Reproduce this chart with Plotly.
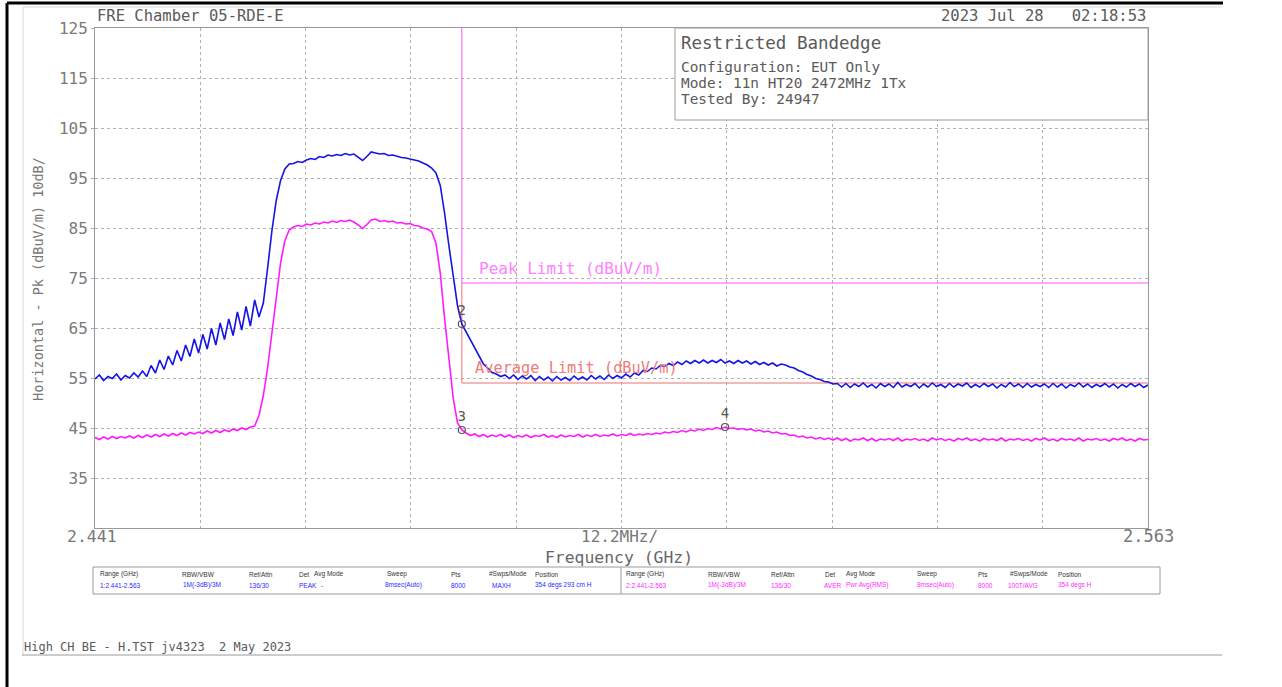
import numpy as np
import plotly.graph_objects as go

# ---------------- data ----------------
FREQ_START = 2.441   # GHz
FREQ_STOP = 2.563    # GHz
N_DIV = 10

# Trace 1: Peak detector, max hold (blue), dBuV/m
BLUE_PK = [
    54.8, 55.6, 54.5, 55.3, 54.9, 55.8, 54.6, 55.5, 55.0, 56.0, 55.2,
    56.4, 55.3, 57.5, 56.0, 58.6, 56.7, 59.4, 57.6, 60.5, 58.4, 61.6, 59.3, 62.8, 60.0,
    63.7, 60.8, 64.9, 61.6, 66.0, 62.7, 66.8, 63.5, 68.2, 64.6, 69.3, 65.4, 70.6, 67.2,
    70.0, 77.0, 84.5, 90.5, 94.5, 96.8, 97.8,
    97.9, 98.3, 98.1, 98.6, 98.9, 98.7, 99.3, 99.1, 99.6, 99.4, 99.7, 99.5, 99.9, 99.6,
    99.8, 99.2, 98.5, 99.3, 100.2, 100.0, 99.8, 99.9, 99.5, 99.6, 99.3, 99.1, 99.0, 98.8,
    98.6, 98.4, 98.0, 97.6, 97.0, 96.0,
    93.5, 88.0, 81.5, 75.0, 69.5, 65.8, 64.2, 62.6, 60.8, 59.2, 57.8, 57.0, 56.1, 55.8,
    55.3, 55.6,
    54.9, 55.6, 54.7, 55.4, 54.8, 55.5, 54.5, 55.3, 54.6, 55.2, 54.4, 55.3, 54.6, 55.1,
    54.5, 55.4, 54.7, 55.2, 54.6, 55.5, 54.8, 55.4, 54.7, 55.6, 54.9, 55.5, 55.0, 55.8,
    55.2, 56.0, 55.6, 56.5, 56.3,
    57.0, 56.8, 57.5, 57.3, 57.9, 57.5, 58.2, 57.7, 58.4, 57.9, 58.5, 58.0, 58.6, 58.0,
    58.5, 58.1, 58.7, 58.0, 58.4, 57.9, 58.5,
    58.0, 58.4, 57.8, 58.3, 57.7, 58.1, 57.6, 58.0, 57.4, 57.8,
    57.6, 57.2, 57.0, 56.5, 56.2, 55.7, 55.4, 54.9, 54.7, 54.3, 54.2, 53.8, 53.9,
    53.2, 53.9, 53.1, 53.8, 53.3, 54.0, 53.2, 53.7, 53.0, 53.9,
    53.3, 53.8, 53.1, 54.1, 53.2, 53.7, 53.3, 53.9, 53.0, 53.8,
    53.2, 54.0, 53.3, 53.7, 53.1, 53.9, 53.2, 53.8, 53.4, 54.0,
    53.1, 53.7, 53.2, 53.9, 53.3, 53.8, 53.0, 53.7, 53.2, 54.1,
    53.3, 53.8, 53.1, 53.9, 53.2, 53.7, 53.3, 53.8, 53.1, 53.9,
    53.2, 53.8, 53.0, 53.7, 53.3, 54.0, 53.2, 53.8, 53.1, 53.7,
    53.3, 53.9, 53.2, 53.8, 53.0, 53.7, 53.2, 53.9, 53.3, 53.8,
    53.1, 53.6,
]

# Trace 2: RMS average (magenta), dBuV/m
MAG_AV = [
    43.1, 42.7, 43.2, 42.8, 43.3, 42.9, 43.3, 43.0, 43.4, 43.0, 43.5, 43.1, 43.6, 43.2,
    43.7, 43.3, 43.8, 43.4, 43.9, 43.5, 44.0, 43.6, 44.1, 43.8, 44.2, 43.9, 44.4, 44.0,
    44.5, 44.1, 44.6, 44.3, 44.8, 44.5, 45.0, 44.7, 45.2,
    45.4, 47.5, 51.5, 57.0, 63.5, 71.0, 78.0, 82.5, 84.6,
    85.2, 85.5, 85.3, 85.8, 85.6, 86.0, 85.8, 86.2, 86.0, 86.4, 86.1, 86.5, 86.3, 86.6,
    86.2, 85.6, 84.9, 85.7, 86.6, 86.8, 86.3, 86.5, 86.2, 86.4, 86.0, 86.1, 85.8, 85.9,
    85.5, 85.4, 85.0, 84.8, 84.3,
    82.0, 76.0, 67.0, 59.0, 51.0, 46.0, 44.6,
    44.0, 43.5, 43.8, 43.3, 43.7, 43.2, 43.6, 43.3, 43.7, 43.2,
    43.6, 43.1, 43.5, 43.2, 43.6, 43.1, 43.5, 43.3, 43.7, 43.2,
    43.5, 43.1, 43.6, 43.2, 43.5, 43.3, 43.7, 43.2, 43.6, 43.3,
    43.7, 43.3, 43.6, 43.4, 43.8, 43.4, 43.7, 43.5, 43.9, 43.5,
    43.8, 43.6,
    43.9, 43.7, 44.0, 43.8, 44.2, 44.0, 44.3, 44.1, 44.5, 44.2,
    44.6, 44.4, 44.8, 44.5, 44.9, 44.7, 45.1, 44.8, 45.2, 44.9,
    45.0, 44.7, 44.9, 44.6, 44.8, 44.4, 44.6, 44.2, 44.4, 44.0,
    44.2, 43.8, 43.9, 43.5, 43.6, 43.2, 43.4, 43.0, 43.2, 42.8,
    43.1, 42.7, 43.0,
    42.6, 43.0, 42.5, 42.9, 42.4, 42.8, 42.6, 43.0, 42.5, 42.9,
    42.4, 42.8, 42.6, 42.9, 42.5, 43.0, 42.4, 42.8, 42.6, 42.9,
    42.5, 42.8, 42.4, 43.0, 42.6, 42.9, 42.5, 42.8, 42.4, 42.9,
    42.6, 43.0, 42.5, 42.8, 42.4, 42.9, 42.6, 42.8, 42.5, 43.0,
    42.4, 42.8, 42.6, 42.9, 42.5, 42.8, 42.4, 42.9, 42.6, 43.0,
    42.5, 42.8, 42.4, 42.9, 42.6, 42.8, 42.5, 43.0, 42.4, 42.8,
    42.6, 42.9, 42.5, 42.8, 42.4, 42.9, 42.6, 43.0, 42.5, 42.8,
    42.4, 42.9, 42.6, 42.7,
]

# Limit lines
BAND_EDGE = 2.4835
PEAK_LIMIT_FREQ = [BAND_EDGE, BAND_EDGE, FREQ_STOP]
PEAK_LIMIT_LEVEL = [125, 74, 74]
AVG_LIMIT_FREQ = [BAND_EDGE, BAND_EDGE, FREQ_STOP]
AVG_LIMIT_LEVEL = [74, 54, 54]

# Markers
MARKER_FREQ = [2.4835, 2.4835, 2.5140]
MARKER_LEVEL = [65.8, 44.6, 45.2]
MARKER_LABEL = ["2", "3", "4"]

Y_TICKS = [35, 45, 55, 65, 75, 85, 95, 105, 115, 125]

TABLE_HEADERS = ["Range (GHz)", "RBW/VBW", "Ref/Attn", "Det", "Avg Mode", "Sweep", "Pts", "#Swps/Mode", "Position"]
TABLE_T1 = ["1:2.441-2.563", "1M(-3dB)/3M", "136/30", "PEAK", "-", "8msec(Auto)", "8000", "MAXH", "354 degs 293 cm H"]
TABLE_T2 = ["2:2.441-2.563", "1M(-3dB)/3M", "136/30", "AVER", "Pwr Avg(RMS)", "8msec(Auto)", "8000", "100T/AVG", "354 degs H"]

# ---------------- layout helpers (pixel -> paper) ----------------
W, H = 1282, 687
L, R, T, B = 95, 1148, 28, 528


def px(x):
    return (x - L) / (R - L)


def py(y):
    return (B - y) / (B - T)


MONO = "DejaVu Sans Mono"
SMALL = "Liberation Sans"
TXT = "#5a5a5a"

freq = np.linspace(FREQ_START, FREQ_STOP, len(BLUE_PK))
freq2 = np.linspace(FREQ_START, FREQ_STOP, len(MAG_AV))

fig = go.Figure()
fig.add_trace(go.Scatter(x=AVG_LIMIT_FREQ, y=AVG_LIMIT_LEVEL, mode="lines",
                         line=dict(color="#f07070", width=1), hoverinfo="skip"))
fig.add_trace(go.Scatter(x=PEAK_LIMIT_FREQ, y=PEAK_LIMIT_LEVEL, mode="lines",
                         line=dict(color="#ff55ff", width=1), hoverinfo="skip"))
fig.add_trace(go.Scatter(x=freq2, y=MAG_AV, mode="lines",
                         line=dict(color="#ff1aff", width=1.6)))
fig.add_trace(go.Scatter(x=freq, y=BLUE_PK, mode="lines",
                         line=dict(color="#1414e6", width=1.6)))
fig.add_trace(go.Scatter(x=MARKER_FREQ, y=MARKER_LEVEL, mode="markers+text",
                         text=MARKER_LABEL, textposition="top center",
                         textfont=dict(family=MONO, size=14, color="#555555"),
                         marker=dict(symbol="circle-open", size=7,
                                     color="#555555", line=dict(width=1.2))))

div = (FREQ_STOP - FREQ_START) / N_DIV
x_grid = [FREQ_START + k * div for k in range(1, N_DIV)]

grid = dict(showgrid=True, gridcolor="#b0b0b0", griddash="dot", gridwidth=1,
            showline=True, mirror=True, linecolor="#9a9a9a", linewidth=1,
            zeroline=False)

fig.update_layout(
    width=W, height=H,
    margin=dict(l=L, r=W - R, t=T, b=H - B, pad=0),
    paper_bgcolor="white", plot_bgcolor="white",
    showlegend=False,
    xaxis=dict(range=[FREQ_START, FREQ_STOP], tickvals=x_grid,
               showticklabels=False, ticks="", **grid),
    yaxis=dict(range=[25, 125], tickvals=Y_TICKS,
               ticktext=[str(v) for v in Y_TICKS],
               tickfont=dict(family=MONO, size=16, color="#7a7a7a"),
               ticks="outside", ticklen=3, tickcolor="#aaaaaa", **grid),
)

ann = []


def text(s, x, y, size, color=TXT, xanchor="left", angle=0, family=MONO):
    ann.append(dict(text=s, x=px(x), y=py(y), xref="paper", yref="paper",
                    xanchor=xanchor, yanchor="middle", showarrow=False,
                    textangle=angle,
                    font=dict(family=family, size=size, color=color)))


NB = "\u00a0"
text("FRE Chamber 05-RDE-E", 95, 16, 15.5)
text("2023 Jul 28" + NB * 3 + "02:18:53", 1148, 16, 15.5, xanchor="right")
text("Restricted Bandedge", 679, 43, 17.5)
text("Configuration: EUT Only", 679, 67, 14.4)
text("Mode: 11n HT20 2472MHz 1Tx", 679, 83, 14.4)
text("Tested By: 24947", 679, 99, 14.4)
text("Peak Limit (dBuV/m)", 477, 268, 16, color="#ff80ff")
text("Average Limit (dBuV/m)", 473, 368, 15.3, color="#f07a7a")
text("2.441", 92, 536, 16.5, color="#777777", xanchor="center")
text("12.2MHz/", 619, 536, 16, color="#777777", xanchor="center")
text("2.563", 1148, 536, 17, color="#777777", xanchor="center")
text("Frequency (GHz)", 619, 557, 16.4, color="#666666", xanchor="center")
text("Horizontal - Pk (dBuV/m) 10dB/", 38, 279, 13.5, color="#777777",
     xanchor="center", angle=-90)
text("High CH BE - H.TST jv4323" + NB * 2 + "2 May 2023", 22, 647, 12)

# instrument settings table
COLS1 = [98, 180, 247, 297, 312, 385, 449, 487, 533]
COLS2 = [624, 706, 769, 823, 844, 915, 976, 1008, 1056]
VAL1 = [98, 181, 247, 297, 319, 383, 449, 490, 533]
VAL2 = [624, 706, 769, 822, 844, 915, 976, 1006, 1056]
TS = 6.5
for i, h in enumerate(TABLE_HEADERS):
    text(h, COLS1[i], 574, TS, color="#333333", family=SMALL)
    text(h, COLS2[i], 574, TS, color="#333333", family=SMALL)
for i, v in enumerate(TABLE_T1):
    text(v, VAL1[i], 585, TS, color="#2a2aff", family=SMALL)
for i, v in enumerate(TABLE_T2):
    text(v, VAL2[i], 585, TS, color="#ff2aff", family=SMALL)

fig.update_layout(annotations=ann)

shapes = []


def rect(x0, y0, x1, y1, color="#9a9a9a", fill="rgba(0,0,0,0)", width=1, layer="above"):
    shapes.append(dict(type="rect", xref="paper", yref="paper",
                       x0=px(x0), x1=px(x1), y0=py(y1), y1=py(y0),
                       line=dict(color=color, width=width), fillcolor=fill, layer=layer))


def line(x0, y0, x1, y1, color="#9a9a9a", width=1):
    shapes.append(dict(type="line", xref="paper", yref="paper",
                       x0=px(x0), x1=px(x1), y0=py(y0), y1=py(y1),
                       line=dict(color=color, width=width), layer="above"))


rect(675, 28, 1148, 120, fill="white")
rect(93, 567, 1160, 594)
line(621, 567, 621, 594)
# page frame
line(7, 3, 7, 687, color="black", width=3)
line(7, 3, 1223, 3, color="black", width=3)
line(23, 7, 23, 655, color="#d8d8d8", width=1)
line(23, 7, 1222, 7, color="#d8d8d8", width=1)
line(22, 655, 1222, 655, color="#9a9a9a", width=1)
fig.update_layout(shapes=shapes)

fig.write_html("out.html", include_plotlyjs=True,
               config={"displayModeBar": False},
               post_script="document.body.style.margin='0px';document.body.style.overflow='hidden';")
